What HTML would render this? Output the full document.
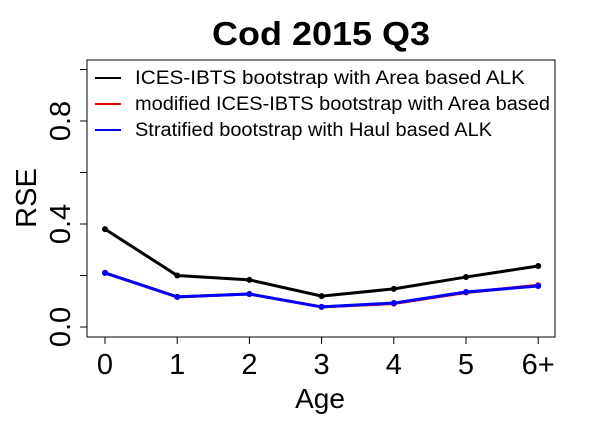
<!DOCTYPE html>
<html><head><meta charset="utf-8"><style>
body{margin:0;background:#fff;}
svg{display:block;font-family:"Liberation Sans",Arial,sans-serif;}
</style></head><body>
<svg id="chart" width="600" height="440" viewBox="0 0 600 440">
<text x="321" y="45" text-anchor="middle" font-size="33" font-weight="bold" textLength="218" lengthAdjust="spacingAndGlyphs">Cod 2015 Q3</text>
<rect x="87" y="60" width="468" height="277" fill="none" stroke="#000" stroke-width="1"/>
<g id="axes"></g>
<g id="series"></g>
<text x="320" y="408" text-anchor="middle" font-size="28">Age</text>
<text transform="translate(36,198) rotate(-90)" text-anchor="middle" font-size="29">RSE</text>
<g font-size="19">
<line x1="95" y1="78" x2="121" y2="78" stroke="#000" stroke-width="2"/>
<text x="135" y="84" textLength="390" lengthAdjust="spacingAndGlyphs">ICES-IBTS bootstrap with Area based ALK</text>
<line x1="95" y1="104" x2="121" y2="104" stroke="#e00000" stroke-width="2"/>
<text x="135" y="110" textLength="415" lengthAdjust="spacingAndGlyphs">modified ICES-IBTS bootstrap with Area based</text>
<line x1="95" y1="130" x2="121" y2="130" stroke="#0000ff" stroke-width="2"/>
<text x="135" y="136" textLength="357" lengthAdjust="spacingAndGlyphs">Stratified bootstrap with Haul based ALK</text>
</g>
</svg>
<script>
const categories=["0","1","2","3","4","5","6+"];
const yTicks=[0.0,0.2,0.4,0.6,0.8,1.0];
const yLabels=["0.0","","0.4","","0.8",""];
const blackVals=[0.38,0.20,0.183,0.12,0.148,0.194,0.237];
const redVals=[0.21,0.117,0.128,0.078,0.091,0.134,0.162];
const blueVals=[0.21,0.117,0.128,0.078,0.093,0.136,0.159];
const NS="http://www.w3.org/2000/svg";
const xs=i=>105+i*72.2;
const ys=v=>327-v*257.5;
function mk(t,a,p){const e=document.createElementNS(NS,t);for(const k in a)e.setAttribute(k,a[k]);p.appendChild(e);return e;}
const ax=document.getElementById('axes');
categories.forEach((c,i)=>{
 const t=mk('line',{x1:xs(i),x2:xs(i),y1:337,y2:344,stroke:'#000'},ax);
 
 
 const l=mk('text',{x:xs(i),y:374,'text-anchor':'middle','font-size':'29'},ax);
 l.textContent=c;
 
 
});
yTicks.forEach((v,i)=>{
 const t=mk('line',{x1:80,x2:87,y1:ys(v),y2:ys(v),stroke:'#000'},ax);
 
 
 if(yLabels[i]){
  const l=mk('text',{transform:`translate(70,${ys(v)}) rotate(-90)`,'text-anchor':'middle','font-size':'29'},ax);
  l.textContent=yLabels[i];
  
  
 }
});
const sg=document.getElementById('series');
[[blackVals,'#000','ices'],[redVals,'#e00000','modified'],[blueVals,'#0000ff','stratified']].forEach(([vals,col,nm])=>{
 const p=mk('polyline',{points:vals.map((v,i)=>xs(i)+','+ys(v)).join(' '),fill:'none',stroke:col,'stroke-width':'3'},sg);
 
 
 vals.forEach((v,i)=>{
  const c=mk('circle',{cx:xs(i),cy:ys(v),r:3,fill:col},sg);
  
  
 });
});
</script>
</body></html>
